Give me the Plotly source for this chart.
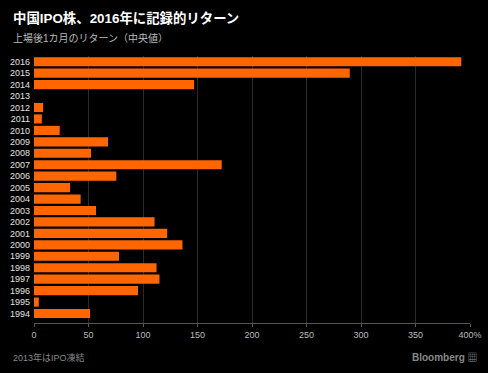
import plotly.graph_objects as go

years = ["1994", "1995", "1996", "1997", "1998", "1999", "2000", "2001", "2002", "2003",
         "2004", "2005", "2006", "2007", "2008", "2009", "2010", "2011", "2012", "2013",
         "2014", "2015", "2016"]
returns = [51.4, 4.4, 95.4, 115.1, 112.4, 78.0, 136.2, 122.2, 110.6, 56.9,
           42.8, 33.1, 75.5, 172.2, 52.3, 67.9, 23.6, 7.2, 8.4, None,
           146.9, 289.7, 392.0]

x_tickvals = [0, 50, 100, 150, 200, 250, 300, 350, 400]
x_ticktext = ["0", "50", "100", "150", "200", "250", "300", "350", "400%"]

title = "中国IPO株、2016年に記録的リターン"
subtitle = "上場後1カ月のリターン（中央値）"
footnote = "2013年はIPO凍結"
source = "Bloomberg"

FONT = "Liberation Sans, Noto Sans CJK JP, sans-serif"

L, R, T, B = 34, 18, 56, 50
PW, PH = 488 - L - R, 373 - T - B

fig = go.Figure(go.Bar(
    x=returns, y=years, orientation="h",
    marker=dict(color="#ff6600", line=dict(width=0)),
))

fig.update_layout(
    width=488, height=373,
    paper_bgcolor="#000000", plot_bgcolor="#000000",
    margin=dict(l=L, r=R, t=T, b=B, autoexpand=False),
    bargap=0.2,
    showlegend=False,
    font=dict(family=FONT, color="#cccccc", size=9),
    xaxis=dict(
        range=[0, 400], tickvals=x_tickvals, ticktext=x_ticktext,
        showgrid=True, gridcolor="#2a2a2a", gridwidth=1,
        zeroline=False, showline=True, linecolor="#555555", linewidth=1,
        ticks="outside", ticklen=3, tickcolor="#555555",
        tickfont=dict(size=9, color="#bbbbbb"), automargin=False,
    ),
    yaxis=dict(
        type="category", range=[-0.83, 22.5],
        showgrid=False, zeroline=False, showline=False,
        ticks="", ticklabelstandoff=3, automargin=False,
        tickfont=dict(size=9, color="#e0e0e0"),
    ),
)

def px(xp):
    return (xp - L) / PW

def py(yp):
    return (373 - B - yp) / PH

fig.add_annotation(text="<b>" + title + "</b>", xref="paper", yref="paper",
                   x=px(11), y=py(18), xanchor="left", yanchor="middle",
                   showarrow=False, font=dict(size=13.4, color="#ffffff", family=FONT))
fig.add_annotation(text=subtitle, xref="paper", yref="paper",
                   x=px(11), y=py(38), xanchor="left", yanchor="middle",
                   showarrow=False, font=dict(size=10, color="#bbbbbb", family=FONT))
fig.add_annotation(text=footnote, xref="paper", yref="paper",
                   x=px(11), y=py(357), xanchor="left", yanchor="middle",
                   showarrow=False, font=dict(size=9, color="#888888", family=FONT))
fig.add_annotation(text="<b>" + source + "</b> ▦", xref="paper", yref="paper",
                   x=px(480), y=py(357), xanchor="right", yanchor="middle",
                   showarrow=False, font=dict(size=10, color="#888888", family=FONT))

fig.write_html("out.html", config={"displayModeBar": False},
               post_script="document.body.style.margin='0';document.body.style.background='#000';")
